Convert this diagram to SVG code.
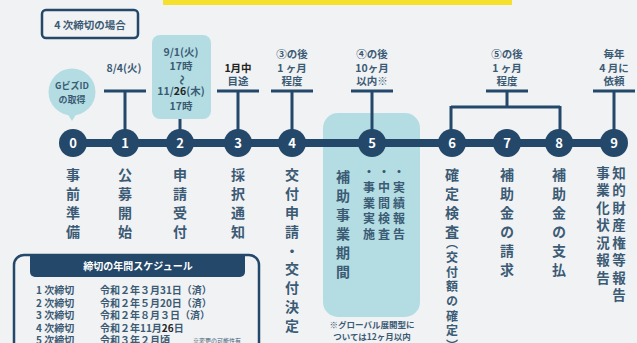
<svg xmlns="http://www.w3.org/2000/svg" width="637" height="343" viewBox="0 0 637 343">
<style>
  text { font-family: "Noto Sans CJK JP", "Noto Sans", sans-serif; font-weight: 700; fill: #3b5b74; }
  .lbl { font-size: 10.5px; text-anchor: middle; }
  .num { font-size: 13px; fill: #ffffff; text-anchor: middle; }
  .vt { writing-mode: vertical-rl; font-size: 14px; letter-spacing: 5px; }
  .vs { writing-mode: vertical-rl; font-size: 12px; letter-spacing: 3.5px; }
  .bar { stroke: #24486a; stroke-width: 3; fill: none; }
  .node { fill: #24486a; }
  .cyan { fill: #b4dde3; }
  .row { font-size: 10px; }
</style>
<rect width="637" height="343" fill="#f1f2f4"/>
<rect x="163" y="0" width="349" height="5" fill="#f5e12d"/>

<g id="title">
  <rect x="42" y="10" width="96" height="28" rx="4" fill="none" stroke="#24486a" stroke-width="2.5"/>
  <text x="90" y="28.5" font-size="10.5" text-anchor="middle">4 次締切の場合</text>
</g>

<g id="period-box">
  <rect x="323" y="113" width="97" height="204" rx="15" class="cyan"/>
</g>

<g id="connectors">
  <line x1="73" y1="143" x2="614" y2="143" stroke="#24486a" stroke-width="8"/>
  <path class="bar" d="M104 91H146M125 91V130"/>
  <path class="bar" d="M180 119V130"/>
  <path class="bar" d="M217 91H259M238 91V130"/>
  <path class="bar" d="M271 91H313M292 91V130"/>
  <path class="bar" d="M351 91H393M372 91V130"/>
  <path class="bar" d="M486 91H528M507 91V107M451 107H560M451 106V130M560 106V130"/>
  <path class="bar" d="M593 91H635M614 91V130"/>
</g>

<g id="n0">
  <circle cx="72" cy="92" r="23.5" class="cyan"/>
  <path d="M67 113L72 121L77 113Z" class="cyan"/>
  <text x="72" y="89" font-size="9" text-anchor="middle">GビズID</text>
  <text x="72" y="102.5" font-size="9" text-anchor="middle">の取得</text>
  <circle cx="73" cy="143" r="14" class="node"/>
  <text x="73" y="147.5" class="num">0</text>
  <text x="73" y="168" class="vt">事前準備</text>
</g>

<g id="n1">
  <text x="124" y="72" class="lbl">8/4(火)</text>
  <circle cx="125" cy="143" r="14" class="node"/>
  <text x="125" y="147.5" class="num">1</text>
  <text x="125" y="168" class="vt">公募開始</text>
</g>

<g id="n2">
  <rect x="152" y="35" width="59" height="84" rx="8" class="cyan"/>
  <text x="181" y="56" class="lbl">9/1(火)</text>
  <text x="181" y="70" class="lbl">17時</text>
  <text x="181" y="80" class="lbl" transform="rotate(90 181 80)" dy="3.5" font-size="9">～</text>
  <text x="181" y="95" class="lbl">11/<tspan fill="#222">26</tspan>(木)</text>
  <text x="181" y="110" class="lbl">17時</text>
  <circle cx="180" cy="143" r="14" class="node"/>
  <text x="180" y="147.5" class="num">2</text>
  <text x="180" y="168" class="vt">申請受付</text>
</g>

<g id="n3">
  <text x="238" y="72" class="lbl" style="fill:#222">1月中</text>
  <text x="238" y="85" class="lbl">目途</text>
  <circle cx="238" cy="143" r="14" class="node"/>
  <text x="238" y="147.5" class="num">3</text>
  <text x="238" y="168" class="vt">採択通知</text>
</g>

<g id="n4">
  <text x="292" y="58" class="lbl">③の後</text>
  <text x="292" y="71.5" class="lbl">1 ヶ月</text>
  <text x="292" y="85" class="lbl">程度</text>
  <circle cx="292" cy="143" r="14" class="node"/>
  <text x="292" y="147.5" class="num">4</text>
  <text x="292" y="168" class="vt" style="letter-spacing:4.8px">交付申請・交付決定</text>
</g>

<g id="n5">
  <text x="372" y="58" class="lbl">④の後</text>
  <text x="372" y="71.5" class="lbl">10ヶ月</text>
  <text x="372" y="85" class="lbl">以内※</text>
  <circle cx="372" cy="143" r="14" class="node"/>
  <text x="372" y="147.5" class="num">5</text>
  <text x="343" y="170" class="vt">補助事業期間</text>
  <text x="369" y="166" class="vs">・事業実施</text>
  <text x="384" y="166" class="vs">・中間検査</text>
  <text x="399" y="166" class="vs">・実績報告</text>
  <text x="372" y="328" font-size="8.5" text-anchor="middle">※グローバル展開型に</text>
  <text x="372" y="340" font-size="8.5" text-anchor="middle">ついては12ヶ月以内</text>
</g>

<g id="n6">
  <text x="507" y="58" class="lbl">⑤の後</text>
  <text x="507" y="71.5" class="lbl">1 ヶ月</text>
  <text x="507" y="85" class="lbl">程度</text>
  <circle cx="452" cy="143" r="14" class="node"/>
  <text x="452" y="147.5" class="num">6</text>
  <text x="452" y="168" class="vt">確定検査</text>
  <text x="452" y="237" class="vs" style="letter-spacing:2.6px">（交付額の確定）</text>
</g>

<g id="n7">
  <circle cx="507" cy="143" r="14" class="node"/>
  <text x="507" y="147.5" class="num">7</text>
  <text x="507" y="168" class="vt">補助金の請求</text>
</g>

<g id="n8">
  <circle cx="559" cy="143" r="14" class="node"/>
  <text x="559" y="147.5" class="num">8</text>
  <text x="559" y="168" class="vt">補助金の支払</text>
</g>

<g id="n9">
  <text x="614" y="58" class="lbl">毎年</text>
  <text x="614" y="71.5" class="lbl">4 月に</text>
  <text x="614" y="85" class="lbl">依頼</text>
  <circle cx="614" cy="143" r="14" class="node"/>
  <text x="614" y="147.5" class="num">9</text>
  <text x="619" y="166" class="vt" style="font-size:13.5px;letter-spacing:4px">知的財産権等報告</text>
  <text x="603" y="166" class="vt" style="font-size:13.5px;letter-spacing:4px">事業化状況報告</text>
</g>

<g id="schedule">
  <rect x="14" y="255" width="245" height="110" rx="10" fill="none" stroke="#24486a" stroke-width="2.5"/>
  <path d="M30 255H245V272a5 5 0 0 1 -5 5H35a5 5 0 0 1 -5 -5Z" fill="#24486a"/>
  <text x="138" y="270" font-size="10" text-anchor="middle" style="fill:#ffffff">締切の年間スケジュール</text>
  <text x="36" y="294" class="row">1 次締切</text>
  <text x="100" y="294" class="row">令和２年３月31日（済）</text>
  <text x="36" y="306.5" class="row">2 次締切</text>
  <text x="100" y="306.5" class="row">令和２年５月20日（済）</text>
  <text x="36" y="319" class="row">3 次締切</text>
  <text x="100" y="319" class="row">令和２年８月３日（済）</text>
  <text x="36" y="331.5" class="row">4 次締切</text>
  <text x="100" y="331.5" class="row">令和２年11月<tspan style="fill:#222">26</tspan>日</text>
  <text x="36" y="344" class="row">5 次締切</text>
  <text x="100" y="344" class="row">令和３年２月頃</text>
  <text x="193" y="343" font-size="6" style="font-weight:400">※変更の可能性有</text>
</g>
</svg>
